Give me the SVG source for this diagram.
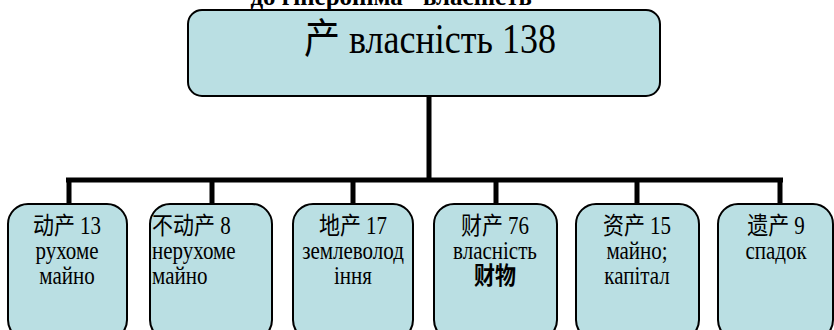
<svg xmlns="http://www.w3.org/2000/svg" width="834" height="330" viewBox="0 0 834 330">
<style>
.box{fill:#BADFE3;stroke:#000;stroke-width:2}
.t{font-family:"Liberation Serif","Noto Sans CJK SC",serif;font-size:21px;fill:#000}
.c{text-anchor:middle}
.top{font-size:36px}
.title{font-family:"Liberation Serif",serif;font-size:25px;font-weight:bold;text-anchor:middle}
.cjkb{font-family:"Noto Sans CJK SC",sans-serif;font-weight:bold}
.conn{stroke:#000;stroke-width:5;fill:none}
</style>
<rect width="834" height="330" fill="#fff"/>
<text class="title" x="398" y="5">до гіпероніма "власність"</text>
<g id="connectors">
<path class="conn" d="M429,96 V180 M66,180 H783 M69,180 V204 M212,180 V204 M353,180 V204 M496,180 V204 M637,180 V204 M780,180 V204"/>
</g>
<g id="n0">
<rect class="box" x="188" y="10" width="472" height="86" rx="14"/>
<text class="t top" transform="translate(430,53) scale(1,1.15)" text-anchor="middle">产 власність 138</text>
</g>
<g id="n1">
<rect class="box" x="8" y="204" width="119" height="136" rx="20"/>
<text class="t c" transform="translate(67,234) scale(1,1.15)">动产 13</text>
<text class="t c" transform="translate(67,259) scale(1,1.15)">рухоме</text>
<text class="t c" transform="translate(67,284) scale(1,1.15)">майно</text>
</g>
<g id="n2">
<rect class="box" x="150" y="204" width="122" height="136" rx="20"/>
<text class="t" transform="translate(152,234) scale(1,1.15)">不动产 8</text>
<text class="t" transform="translate(152,259) scale(1,1.15)">нерухоме</text>
<text class="t" transform="translate(152,284) scale(1,1.15)">майно</text>
</g>
<g id="n3">
<rect class="box" x="293" y="204" width="120" height="136" rx="20"/>
<text class="t c" transform="translate(353,234) scale(1,1.15)">地产 17</text>
<text class="t c" transform="translate(353,259) scale(1,1.15)">землеволод</text>
<text class="t c" transform="translate(353,284) scale(1,1.15)">іння</text>
</g>
<g id="n4">
<rect class="box" x="434" y="204" width="123" height="136" rx="20"/>
<text class="t c" transform="translate(495,234) scale(1,1.15)">财产 76</text>
<text class="t c" transform="translate(495,259) scale(1,1.15)">власність</text>
<text class="t c cjkb" transform="translate(495,284) scale(1,1.15)">财物</text>
</g>
<g id="n5">
<rect class="box" x="576" y="204" width="123" height="136" rx="20"/>
<text class="t c" transform="translate(637,234) scale(1,1.15)">资产 15</text>
<text class="t c" transform="translate(637,259) scale(1,1.15)">майно;</text>
<text class="t c" transform="translate(637,284) scale(1,1.15)">капітал</text>
</g>
<g id="n6">
<rect class="box" x="718" y="204" width="115" height="136" rx="20"/>
<text class="t c" transform="translate(776,234) scale(1,1.15)">遗产 9</text>
<text class="t c" transform="translate(776,259) scale(1,1.15)">спадок</text>
</g>
</svg>
